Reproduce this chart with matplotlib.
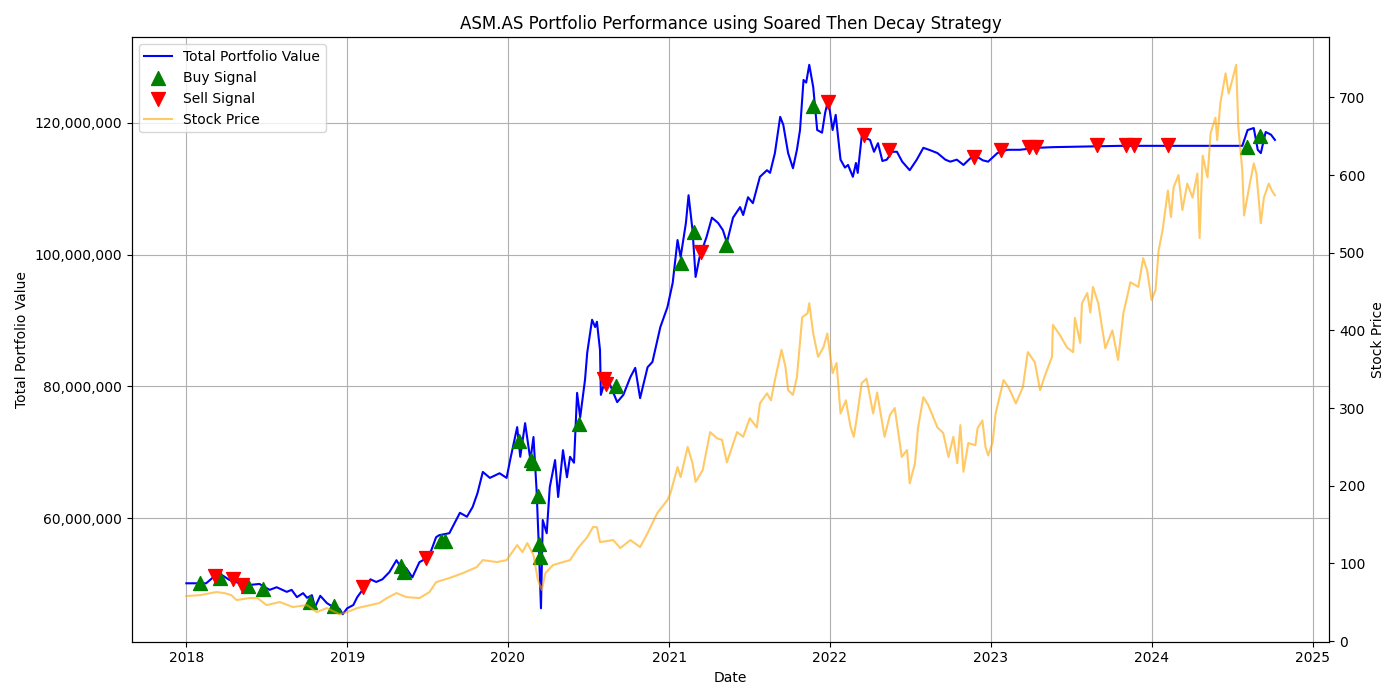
import matplotlib
matplotlib.use("Agg")
import matplotlib.pyplot as plt
import matplotlib.ticker as mticker
import pandas as pd

# ---- Portfolio value (millions) ----
pf_dates = ["2018-01-01","2018-02-15","2018-03-01","2018-03-24","2018-04-09","2018-05-02","2018-05-17",
            "2018-06-16","2018-07-09","2018-07-25","2018-08-17","2018-08-28","2018-09-09","2018-09-23",
            "2018-10-02","2018-10-13","2018-10-20","2018-11-01","2018-11-16","2018-11-30","2018-12-15",
            "2018-12-22","2019-01-01","2019-01-15","2019-01-24","2019-02-05","2019-02-23","2019-03-08",
            "2019-03-22","2019-04-07","2019-04-23","2019-05-04","2019-05-15","2019-05-29","2019-06-14",
            "2019-06-30","2019-07-11","2019-07-22","2019-07-29","2019-08-21","2019-09-14","2019-09-30",
            "2019-10-13","2019-10-24","2019-11-05","2019-11-21","2019-12-13","2019-12-29","2020-01-06",
            "2020-01-22","2020-01-29","2020-02-09","2020-02-21","2020-02-28","2020-03-06","2020-03-11",
            "2020-03-16","2020-03-20","2020-03-29","2020-04-05","2020-04-17","2020-04-24","2020-05-05",
            "2020-05-14","2020-05-21","2020-05-30","2020-06-06","2020-06-13","2020-06-24","2020-06-29",
            "2020-07-10","2020-07-17","2020-07-21","2020-07-28","2020-07-30","2020-08-09","2020-08-20",
            "2020-09-05","2020-09-19","2020-10-05","2020-10-16","2020-10-27","2020-11-13","2020-11-24",
            "2020-12-12","2020-12-28","2021-01-09","2021-01-20","2021-01-27","2021-02-08","2021-02-14",
            "2021-02-23","2021-03-02","2021-03-11","2021-03-27","2021-04-08","2021-04-22","2021-05-03",
            "2021-05-12","2021-05-26","2021-06-11","2021-06-18","2021-06-29","2021-07-10","2021-07-26",
            "2021-08-11","2021-08-18","2021-08-29","2021-09-10","2021-09-17","2021-09-28","2021-10-09",
            "2021-10-18","2021-10-25","2021-11-02","2021-11-08","2021-11-15","2021-11-24","2021-12-03",
            "2021-12-14","2021-12-21","2021-12-28","2022-01-07","2022-01-14","2022-01-25","2022-02-04",
            "2022-02-11","2022-02-22","2022-03-01","2022-03-05","2022-03-14","2022-04-02","2022-04-11",
            "2022-04-20","2022-04-30","2022-05-10","2022-05-22","2022-06-02","2022-06-14","2022-07-01",
            "2022-07-17","2022-08-01","2022-08-18","2022-09-02","2022-09-20","2022-10-01","2022-10-16",
            "2022-10-31","2022-11-17","2022-12-02","2022-12-14","2022-12-26","2023-01-16","2023-02-08",
            "2023-03-08","2023-04-16","2023-05-22","2023-10-22","2024-07-25","2024-08-06","2024-08-20",
            "2024-08-29","2024-09-05","2024-09-16","2024-09-28","2024-10-07"]
pf_values = [50.1,50.1,50.9,51.3,50.6,50.1,49.8,
             50.0,49.1,49.5,48.8,49.1,48.0,48.6,
             47.9,48.3,46.5,48.2,47.1,46.5,46.2,
             45.4,46.3,46.8,48.0,49.1,50.7,50.3,
             50.7,51.8,53.6,52.4,52.4,51.0,53.3,
             53.9,55.1,57.1,57.4,57.7,60.8,60.2,
             61.7,63.8,67.0,66.1,66.8,66.1,68.8,
             73.8,69.3,74.4,68.8,72.3,64.3,55.9,
             46.3,59.7,57.7,64.7,68.8,63.2,70.3,
             66.2,69.3,68.4,79.0,75.3,81.0,85.1,
             90.1,89.0,89.8,85.5,78.7,81.0,80.2,
             77.6,78.7,81.4,82.8,78.2,82.9,83.7,
             89.0,92.0,95.7,102.2,99.6,104.8,109.0,
             103.7,96.6,99.6,102.7,105.6,104.8,103.7,
             101.8,105.6,107.2,106.0,108.7,107.8,111.8,
             112.8,112.4,115.4,120.9,119.7,115.4,113.1,
             115.9,118.9,126.5,126.1,128.8,125.4,118.9,
             118.5,121.5,123.5,118.9,121.2,114.4,113.2,
             113.6,111.8,113.9,112.4,117.9,117.4,115.6,
             116.9,114.2,114.4,115.6,115.6,114.1,112.8,
             114.4,116.2,115.8,115.4,114.4,114.1,114.4,
             113.6,114.7,114.8,114.3,114.1,115.4,115.9,
             115.9,116.2,116.3,116.5,116.5,118.9,119.2,
             115.9,115.4,118.6,118.2,117.4]

# ---- Stock price ----
px_dates = ["2018-01-01","2018-02-02","2018-03-10","2018-03-28","2018-04-13","2018-04-25","2018-05-24",
            "2018-06-12","2018-07-02","2018-08-01","2018-08-31","2018-10-02","2018-10-24","2018-11-16",
            "2018-12-15","2019-01-01","2019-01-24","2019-02-23","2019-03-15","2019-04-01","2019-04-23",
            "2019-05-15","2019-06-14","2019-07-07","2019-07-22","2019-08-21","2019-09-21","2019-10-22",
            "2019-11-05","2019-12-07","2019-12-29","2020-01-22","2020-02-03","2020-02-14","2020-02-28",
            "2020-03-09","2020-03-18","2020-03-26","2020-04-12","2020-05-05","2020-05-21","2020-06-08",
            "2020-06-29","2020-07-12","2020-07-21","2020-07-28","2020-08-27","2020-09-12","2020-10-05",
            "2020-10-27","2020-11-13","2020-12-05","2020-12-28","2021-01-04","2021-01-20","2021-01-27",
            "2021-02-12","2021-02-23","2021-03-02","2021-03-18","2021-04-04","2021-04-20","2021-05-01",
            "2021-05-12","2021-06-04","2021-06-18","2021-07-03","2021-07-19","2021-07-26","2021-08-11",
            "2021-08-20","2021-08-29","2021-09-13","2021-09-22","2021-09-28","2021-10-09","2021-10-18",
            "2021-10-30","2021-11-11","2021-11-15","2021-11-24","2021-12-05","2021-12-17","2021-12-26",
            "2022-01-07","2022-01-16","2022-01-25","2022-02-06","2022-02-17","2022-02-24","2022-03-03",
            "2022-03-14","2022-03-25","2022-04-09","2022-04-18","2022-05-05","2022-05-17","2022-05-28",
            "2022-06-13","2022-06-25","2022-07-01","2022-07-13","2022-07-20","2022-08-01","2022-08-12",
            "2022-09-02","2022-09-15","2022-09-27","2022-10-08","2022-10-17","2022-10-24","2022-10-31",
            "2022-11-11","2022-11-27","2022-12-02","2022-12-13","2022-12-20","2022-12-26","2023-01-05",
            "2023-01-12","2023-01-30","2023-02-11","2023-02-27","2023-03-15","2023-03-26","2023-04-11",
            "2023-04-23","2023-05-04","2023-05-20","2023-05-22","2023-06-07","2023-06-23","2023-07-07",
            "2023-07-11","2023-07-23","2023-07-27","2023-08-08","2023-08-15","2023-08-21","2023-09-02",
            "2023-09-18","2023-10-04","2023-10-17","2023-10-29","2023-11-14","2023-12-02","2023-12-13",
            "2023-12-22","2024-01-01","2024-01-10","2024-01-17","2024-01-26","2024-02-07","2024-02-14",
            "2024-02-20","2024-03-02","2024-03-11","2024-03-22","2024-04-03","2024-04-14","2024-04-19",
            "2024-04-26","2024-05-07","2024-05-14","2024-05-25","2024-05-29","2024-06-05","2024-06-17",
            "2024-06-24","2024-07-02","2024-07-11","2024-07-16","2024-07-25","2024-07-29","2024-08-08",
            "2024-08-20","2024-08-26","2024-09-05","2024-09-12","2024-09-23","2024-09-30","2024-10-07"]
px_values = [57.9,59.2,63.1,61.8,59.2,52.8,55.3,
             55.3,46.3,50.2,43.8,46.3,37.3,42.5,
             34.5,37.3,42.5,46.3,48.9,55.3,61.8,
             56.6,55.3,63.1,75.9,81.1,87.5,95.2,
             104.2,101.7,104.2,123.6,114.5,126.1,110.7,
             78.5,65.6,87.5,97.8,101.7,104.2,119.7,
             133.8,146.7,146.7,127.4,130.0,119.7,130.0,
             121.0,139.0,164.7,181.5,190.5,224,211,
             250,229,205,220,269,261,259,
             230,269,263,287,275,306,319,
             310,336,375,353,323,317,340,
             417,422,435,396,366,378,396,
             345,358,293,310,275,263,288,
             332,338,293,320,263,291,300,
             237,246,203,229,275,314,304,
             275,268,237,263,229,278,218,
             255,252,274,284,250,239,255,
             293,336,326,306,327,372,359,
             323,342,366,407,394,378,372,
             416,384,435,448,423,456,435,
             377,400,362,422,462,456,493,
             477,439,452,503,529,580,546,
             584,600,555,589,571,602,519,
             625,597,654,674,645,692,731,
             705,722,742,661,606,548,580,
             615,602,538,571,589,580,574]

# ---- Signals ----
buy_dates = ["2018-02-02","2018-03-19","2018-05-22","2018-06-23","2018-10-08","2018-12-02",
             "2019-05-04","2019-05-11","2019-08-01","2019-08-12","2020-01-26","2020-02-23",
             "2020-02-26","2020-03-09","2020-03-11","2020-03-13","2020-06-10","2020-09-03",
             "2021-01-27","2021-02-26","2021-05-10","2021-11-24","2024-08-04","2024-09-03"]
buy_values = [50.1,50.9,49.7,49.2,47.2,46.6,
              52.7,51.8,56.5,56.5,71.7,68.8,
              68.4,63.3,56.1,54.1,74.3,80.0,
              98.7,103.4,101.5,122.6,116.3,118.0]
sell_dates = ["2018-03-06","2018-04-16","2018-05-08","2019-02-05","2019-06-30","2020-08-07",
              "2020-08-10","2021-03-14","2021-12-28","2022-03-19","2022-05-15","2022-11-23",
              "2023-01-25","2023-03-28","2023-04-14","2023-08-31","2023-11-05","2023-11-21",
              "2024-02-07"]
sell_values = [51.2,50.7,49.8,49.5,53.9,81.1,
               80.3,100.4,123.2,118.2,115.9,114.8,
               115.9,116.3,116.3,116.6,116.6,116.6,
               116.6]

pf_d = pd.to_datetime(pf_dates)
px_d = pd.to_datetime(px_dates)
buy_d = pd.to_datetime(buy_dates)
sell_d = pd.to_datetime(sell_dates)
scale = 1e6

fig, ax1 = plt.subplots(figsize=(14, 7), dpi=100)
l1, = ax1.plot(pf_d, [v * scale for v in pf_values], color='blue', linewidth=1.5,
               label='Total Portfolio Value')
s1 = ax1.scatter(buy_d, [v * scale for v in buy_values], marker='^', color='green', s=100,
                 label='Buy Signal', zorder=3)
s2 = ax1.scatter(sell_d, [v * scale for v in sell_values], marker='v', color='red', s=100,
                 label='Sell Signal', zorder=3)
ax1.set_xlabel('Date')
ax1.set_ylabel('Total Portfolio Value')
ax1.yaxis.set_major_formatter(mticker.FuncFormatter(lambda x, p: f'{int(x):,}'))
ax1.grid(True)

ax2 = ax1.twinx()
l2, = ax2.plot(px_d, px_values, color='orange', alpha=0.6, linewidth=1.5, label='Stock Price')
ax2.set_ylabel('Stock Price')

ax2.legend([l1, s1, s2, l2], ['Total Portfolio Value', 'Buy Signal', 'Sell Signal', 'Stock Price'],
           loc='upper left')
ax1.set_title('ASM.AS Portfolio Performance using Soared Then Decay Strategy')
fig.tight_layout()
fig.savefig('out.png')
